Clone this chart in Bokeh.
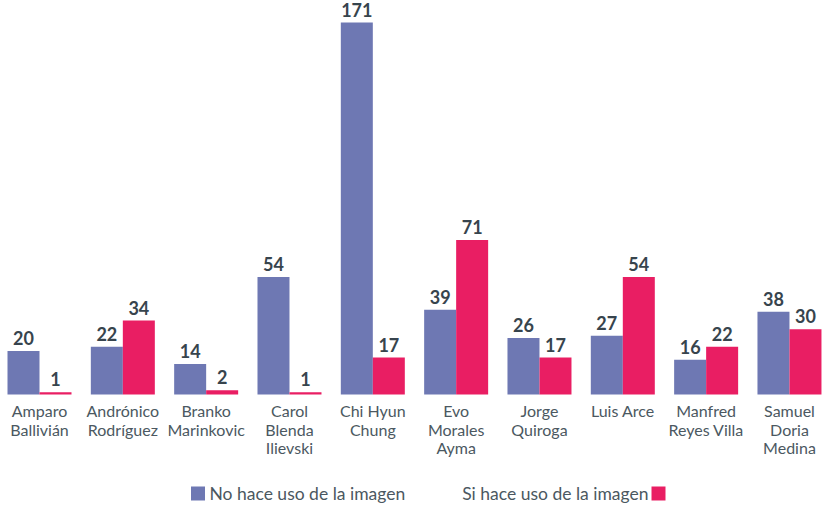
from bokeh.plotting import figure
from bokeh.models import Range1d
from bokeh.core.properties import value
from bokeh.embed import file_html
from bokeh.resources import INLINE

categories = ["Amparo\nBallivián", "Andrónico\nRodríguez", "Branko\nMarinkovic",
              "Carol\nBlenda\nIlievski", "Chi Hyun\nChung", "Evo\nMorales\nAyma",
              "Jorge\nQuiroga", "Luis Arce", "Manfred\nReyes Villa", "Samuel\nDoria\nMedina"]
no_uso = [20, 22, 14, 54, 171, 39, 26, 27, 16, 38]
si_uso = [1, 34, 2, 1, 17, 71, 17, 54, 22, 30]
series_names = ["No hace uso de la imagen", "Si hace uso de la imagen"]

BLUE = "#6e78b3"
PINK = "#e91e63"
TXT = "#37444d"
LBL = "#4b5861"
FONT = "Lato"

W, H = 823, 508
PX_PER_CAT = 83.33
PX_PER_UNIT = 2.175
BASE_PY = 394
x0 = -39.0 / PX_PER_CAT
x1 = x0 + W / PX_PER_CAT
y1 = BASE_PY / PX_PER_UNIT
y0 = -(H - BASE_PY) / PX_PER_UNIT

def dx(px):
    return x0 + px / PX_PER_CAT

def dy(py):
    return (BASE_PY - py) / PX_PER_UNIT

p = figure(width=W, height=H, output_backend="svg", toolbar_location=None,
           x_range=Range1d(x0, x1), y_range=Range1d(y0, y1),
           min_border=0, outline_line_color=None)
p.axis.visible = False
p.xgrid.visible = False
p.ygrid.visible = False
p.background_fill_color = None
p.border_fill_color = None

bw = 32 / PX_PER_CAT
xs = list(range(len(categories)))
xb = [x - bw / 2 for x in xs]
xp = [x + bw / 2 for x in xs]

p.vbar(x=xb, top=no_uso, bottom=0, width=bw, fill_color=BLUE, line_color=None)
p.vbar(x=xp, top=si_uso, bottom=0, width=bw, fill_color=PINK, line_color=None)

p.text(x=xb, y=no_uso, text=[str(v) for v in no_uso], text_align="center",
       text_baseline="alphabetic", y_offset=-13, text_font=value(FONT),
       text_font_style="bold", text_font_size="18px", text_color=TXT)
p.text(x=xp, y=si_uso, text=[str(v) for v in si_uso], text_align="center",
       text_baseline="alphabetic", y_offset=-13, text_font=value(FONT),
       text_font_style="bold", text_font_size="18px", text_color=TXT)

# category labels (multi-line)
for k in range(3):
    lx, lt = [], []
    for i, c in enumerate(categories):
        lines = c.split("\n")
        if k < len(lines):
            lx.append(xs[i])
            lt.append(lines[k])
    p.text(x=lx, y=[0] * len(lx), text=lt, text_align="center",
           text_baseline="alphabetic", y_offset=16 + 18.5 * k,
           text_font=value(FONT), text_font_size="16px", text_color=LBL)

# legend
p.rect(x=[dx(197.5), dx(658)], y=[dy(493)] * 2, width=14, height=14,
       width_units="screen", height_units="screen",
       fill_color=[BLUE, PINK], line_color=None)
p.text(x=[dx(209)], y=[dy(493)], text=[series_names[0]], text_align="left",
       text_baseline="alphabetic", text_font=value(FONT), text_font_size="17.5px",
       text_color=LBL)
p.text(x=[dx(648)], y=[dy(493)], text=[series_names[1]], text_align="right",
       text_baseline="alphabetic", text_font=value(FONT), text_font_size="17.5px",
       text_color=LBL)

open("out.html", "w").write(file_html(p, INLINE))
